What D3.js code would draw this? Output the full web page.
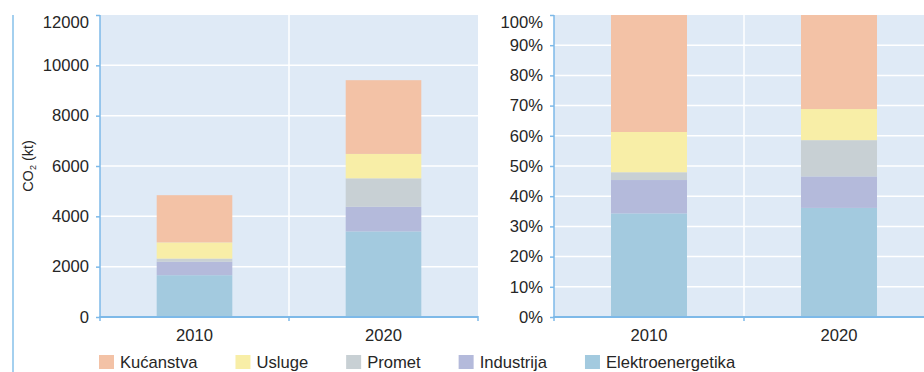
<!DOCTYPE html>
<html>
<head>
<meta charset="utf-8">
<script src="https://cdn.jsdelivr.net/npm/d3@7/dist/d3.min.js"></script>
<style>
  html, body { margin: 0; padding: 0; background: #ffffff; }
  svg { display: block; font-family: "Liberation Sans", Arial, Helvetica, sans-serif; }
  .axis path, .axis line { stroke: #7db9e8; }
  .axis text { fill: #262626; font-size: 16.6px; }
</style>
</head>
<body>
<svg id="chart" width="924" height="372"></svg>
<script>
// Years and sectors (stack order, bottom to top)
const years = ["2010", "2020"];
const sectors = ["Elektroenergetika", "Industrija", "Promet", "Usluge", "Kućanstva"];

// CO2 emissions per sector, kt
const elektroenergetika = [1660, 3400];
const industrija = [535, 980];
const promet = [125, 1130];
const usluge = [645, 970];
const kucanstva = [1875, 2930];

// Axis ticks
const absoluteTicks = [0, 2000, 4000, 6000, 8000, 10000, 12000];
const shareTicks = [0, 0.1, 0.2, 0.3, 0.4, 0.5, 0.6, 0.7, 0.8, 0.9, 1.0];

// Legend order
const legendOrder = ["Kućanstva", "Usluge", "Promet", "Industrija", "Elektroenergetika"];

const colors = {
  "Kućanstva": "#f3c2a6",
  "Usluge": "#f8eea7",
  "Promet": "#c8d0d4",
  "Industrija": "#b4badb",
  "Elektroenergetika": "#a3cadf"
};

const seriesBySector = {
  "Elektroenergetika": elektroenergetika,
  "Industrija": industrija,
  "Promet": promet,
  "Usluge": usluge,
  "Kućanstva": kucanstva
};

const table = years.map((year, i) => {
  const row = { year };
  sectors.forEach(s => { row[s] = seriesBySector[s][i]; });
  return row;
});

const svg = d3.select("#chart");
const plotTop = 15, plotBottom = 317;

// decorative rule along the left edge
svg.append("line")
  .attr("x1", 13).attr("x2", 13).attr("y1", plotTop).attr("y2", 372)
  .attr("stroke", "#86c1ea").attr("stroke-width", 1.5);

function panel({ x0, x1, yScale, ticks, format, offset }) {
  const g = svg.append("g");
  const x = d3.scaleBand().domain(years).range([x0, x1]).paddingInner(0).paddingOuter(0);
  const bw = x.bandwidth();
  const plotRight = Math.min(x1, 924);

  // plot background
  g.append("rect")
    .attr("x", x0).attr("y", plotTop)
    .attr("width", plotRight - x0).attr("height", plotBottom - plotTop)
    .attr("fill", "#dfeaf6");

  // horizontal grid
  g.append("g").selectAll("line")
    .data(ticks.slice(1, -1))
    .join("line")
    .attr("x1", x0).attr("x2", plotRight)
    .attr("y1", d => yScale(d)).attr("y2", d => yScale(d))
    .attr("stroke", "#ffffff").attr("stroke-width", 1.5);

  // vertical grid between the year bands
  g.append("line")
    .attr("x1", x(years[1])).attr("x2", x(years[1]))
    .attr("y1", plotTop).attr("y2", plotBottom)
    .attr("stroke", "#ffffff").attr("stroke-width", 1.5);

  // stacked bars
  const stack = d3.stack().keys(sectors).offset(offset);
  const layers = stack(table);
  const barW = bw * 0.4;
  g.append("g").selectAll("g")
    .data(layers)
    .join("g")
    .attr("fill", d => colors[d.key])
    .selectAll("rect")
    .data(d => d)
    .join("rect")
    .attr("x", d => x(d.data.year) + (bw - barW) / 2)
    .attr("width", barW)
    .attr("y", d => yScale(d[1]))
    .attr("height", d => yScale(d[0]) - yScale(d[1]));

  // y axis
  const yAxis = g.append("g")
    .attr("class", "axis")
    .attr("transform", `translate(${x0},0)`)
    .call(d3.axisLeft(yScale).tickValues(ticks).tickFormat(format).tickSize(4).tickPadding(7));
  yAxis.select(".domain").attr("d", `M0,${plotTop}V${plotBottom}`).attr("stroke-width", 1.5);
  yAxis.selectAll(".tick line").attr("stroke-width", 1.5);
  // keep the top label inside the panel
  yAxis.selectAll(".tick text").filter(d => d === ticks[ticks.length - 1])
    .attr("transform", "translate(0,7)");

  // x axis: labels at band centres, ticks on band boundaries
  const xAxis = g.append("g")
    .attr("class", "axis")
    .attr("transform", `translate(0,${plotBottom})`)
    .call(d3.axisBottom(x).tickSize(0).tickPadding(12));
  xAxis.select(".domain").attr("d", `M${x0},0H${plotRight}`).attr("stroke-width", 2);

  const bounds = [x(years[0]), x(years[1]), x(years[1]) + bw].filter(v => v <= 924);
  g.append("g").selectAll("line")
    .data(bounds)
    .join("line")
    .attr("x1", d => d).attr("x2", d => d)
    .attr("y1", plotBottom - 1).attr("y2", plotBottom + 4)
    .attr("stroke", "#7db9e8").attr("stroke-width", 1.5);
}

panel({
  x0: 100, x1: 478,
  yScale: d3.scaleLinear().domain([0, 12000]).range([plotBottom, plotTop]),
  ticks: absoluteTicks,
  format: d3.format("d"),
  offset: d3.stackOffsetNone
});

panel({
  x0: 554, x1: 934,
  yScale: d3.scaleLinear().domain([0, 1]).range([plotBottom, plotTop]),
  ticks: shareTicks,
  format: d3.format(".0%"),
  offset: d3.stackOffsetExpand
});

// y axis title: CO2 (kt)
const title = svg.append("text")
  .attr("transform", `translate(33,${(plotTop + plotBottom) / 2}) rotate(-90)`)
  .attr("text-anchor", "middle")
  .attr("fill", "#262626")
  .style("font-size", "14.5px");
title.append("tspan").text("CO");
title.append("tspan").attr("dy", 3).style("font-size", "9px").text("2");
title.append("tspan").attr("dy", -3).text(" (kt)");

// legend
const legend = svg.append("g").attr("transform", "translate(99,354)");
let lx = 0;
legendOrder.forEach(name => {
  const item = legend.append("g").attr("transform", `translate(${lx},0)`);
  item.append("rect").attr("y", 1).attr("width", 15).attr("height", 14).attr("fill", colors[name]);
  const t = item.append("text")
    .attr("x", 21).attr("y", 13.5)
    .attr("fill", "#262626")
    .style("font-size", "16.6px")
    .text(name);
  lx += 21 + t.node().getComputedTextLength() + 38;
});
</script>
</body>
</html>
